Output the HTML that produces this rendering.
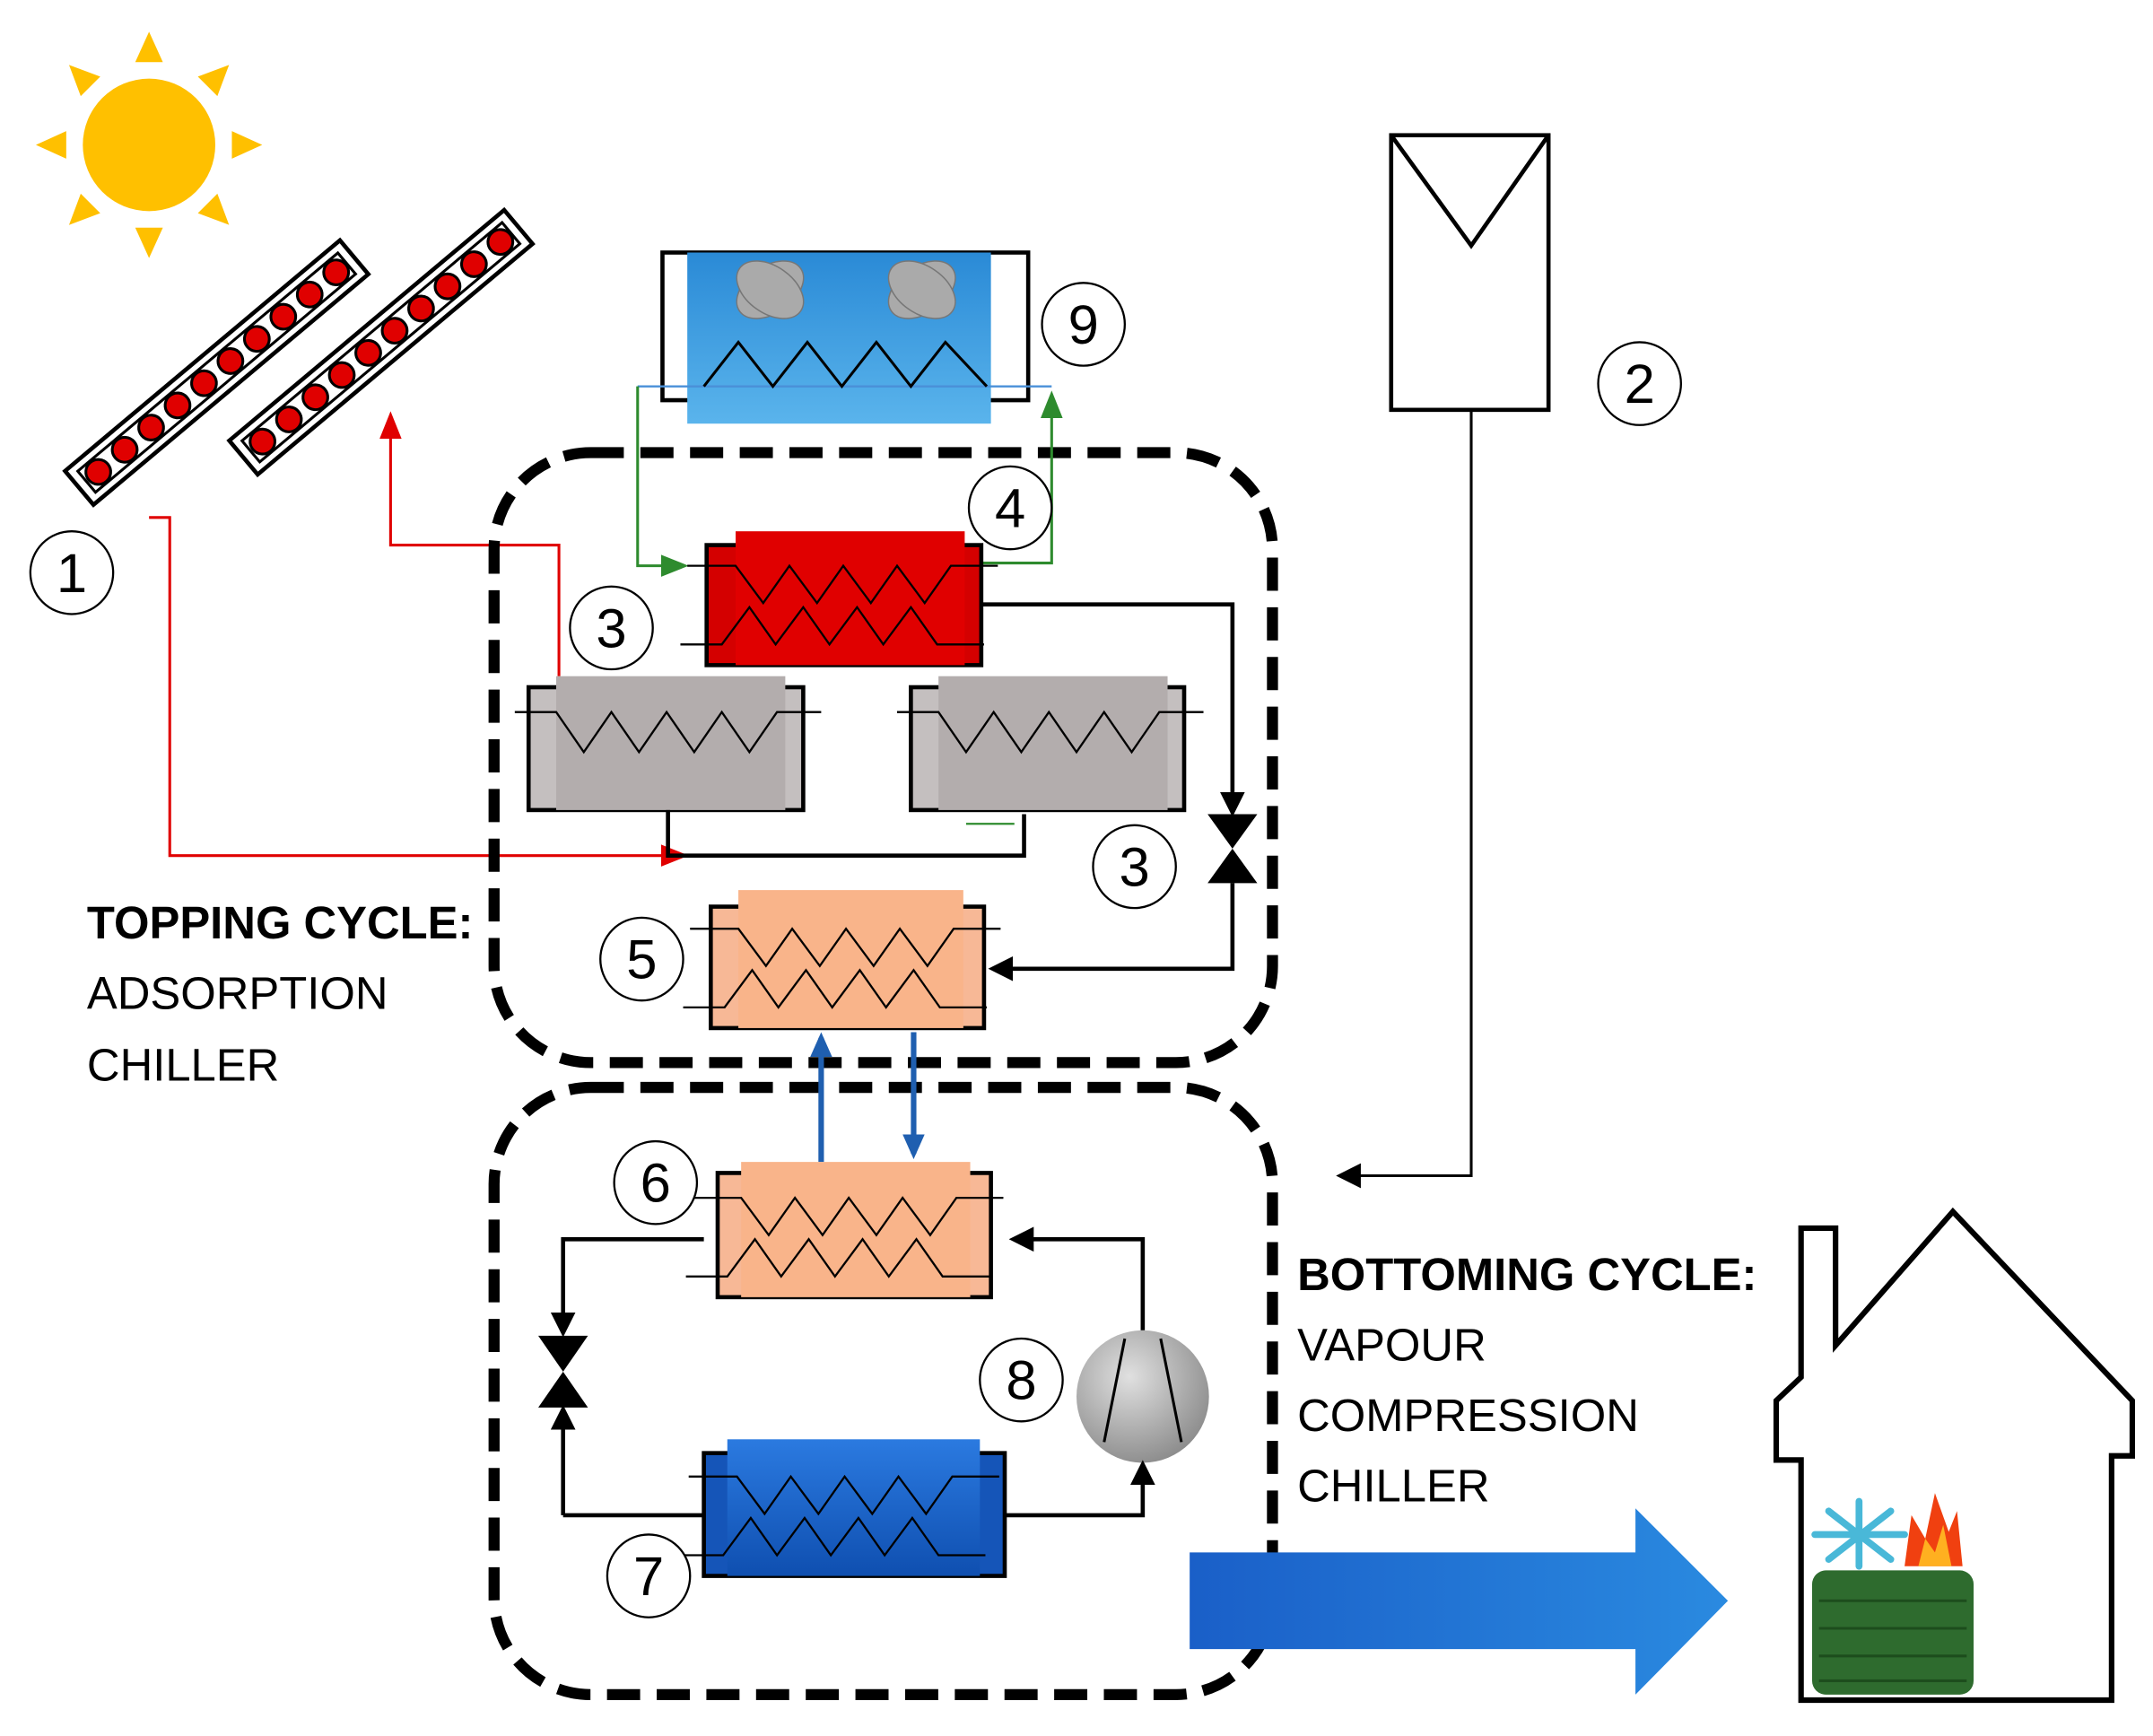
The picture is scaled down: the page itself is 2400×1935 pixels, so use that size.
<!DOCTYPE html>
<html><head><meta charset="utf-8"><style>
html,body{margin:0;padding:0;background:#fff;}
svg{display:block;}
text{font-family:"Liberation Sans",sans-serif;}
</style></head><body>
<svg width="2400" height="1935" viewBox="0 0 1560 1258" preserveAspectRatio="none" xmlns="http://www.w3.org/2000/svg">
<defs>
<marker id="akb" markerWidth="18" markerHeight="18" refX="14" refY="9" orient="auto" markerUnits="userSpaceOnUse"><path d="M0,0 L18,9 L0,18 z" fill="#000"/></marker>
<marker id="ar" markerWidth="20" markerHeight="20" refX="16" refY="10" orient="auto" markerUnits="userSpaceOnUse"><path d="M0,2 L20,10 L0,18 z" fill="#e00000"/></marker>
<marker id="ag" markerWidth="20" markerHeight="20" refX="16" refY="10" orient="auto" markerUnits="userSpaceOnUse"><path d="M0,2 L20,10 L0,18 z" fill="#2e8b2e"/></marker>
<marker id="ab" markerWidth="18" markerHeight="18" refX="14" refY="9" orient="auto" markerUnits="userSpaceOnUse"><path d="M0,1 L18,9 L0,17 z" fill="#1f5fb0"/></marker>
<linearGradient id="tw" x1="0" y1="0" x2="0" y2="1"><stop offset="0" stop-color="#2a8ad6"/><stop offset="1" stop-color="#5ab4ec"/></linearGradient>
<linearGradient id="bl" x1="0" y1="0" x2="0" y2="1"><stop offset="0" stop-color="#2b7ae0"/><stop offset="1" stop-color="#0f4fb0"/></linearGradient>
<radialGradient id="cp" cx="0.4" cy="0.35" r="0.7"><stop offset="0" stop-color="#e0e0e0"/><stop offset="1" stop-color="#8a8a8a"/></radialGradient>
<linearGradient id="ba" x1="0" y1="0" x2="1" y2="0"><stop offset="0" stop-color="#1a5fc8"/><stop offset="1" stop-color="#2a8ae0"/></linearGradient>
<g id="zz2" fill="none" stroke="#000" stroke-width="1.5">
<polyline points="-35,25 0,25 20,52 39,25 59,52 78,25 98,52 117,25 137,52 156,25 190,25"/>
<polyline points="-40,82 -10,82 10,55 29,82 49,55 68,82 88,55 107,82 127,55 146,82 180,82"/>
</g>
<g id="zz1" fill="none" stroke="#000" stroke-width="1.5">
<polyline points="-30,26 0,26 20,55 40,26 60,55 80,26 100,55 120,26 140,55 160,26 192,26"/>
</g>
</defs>

<!-- Sun -->
<g fill="#FFC000">
<circle cx="108" cy="105" r="48"/>
<g transform="translate(108,105)">
<polygon points="-10,-60 10,-60 0,-82"/><polygon points="-10,60 10,60 0,82"/><polygon points="60,-10 60,10 82,0"/><polygon points="-60,-10 -60,10 -82,0"/>
<g transform="rotate(45)"><polygon points="-10,-60 10,-60 0,-82"/><polygon points="-10,60 10,60 0,82"/><polygon points="60,-10 60,10 82,0"/><polygon points="-60,-10 -60,10 -82,0"/></g>
</g></g>

<!-- Collectors -->
<g transform="translate(157,270) rotate(-40)">
<rect x="-130" y="-16" width="260" height="32" fill="#fff" stroke="#000" stroke-width="3"/>
<rect x="-123" y="-10" width="246" height="20" fill="none" stroke="#000" stroke-width="2"/>
<g fill="#e00000" stroke="#000" stroke-width="2">
<circle cx="-112" cy="0" r="9"/><circle cx="-87" cy="0" r="9"/><circle cx="-62" cy="0" r="9"/><circle cx="-37" cy="0" r="9"/><circle cx="-12" cy="0" r="9"/><circle cx="13" cy="0" r="9"/><circle cx="38" cy="0" r="9"/><circle cx="63" cy="0" r="9"/><circle cx="88" cy="0" r="9"/><circle cx="113" cy="0" r="9"/></g></g>
<g transform="translate(276,248) rotate(-40)">
<rect x="-130" y="-16" width="260" height="32" fill="#fff" stroke="#000" stroke-width="3"/>
<rect x="-123" y="-10" width="246" height="20" fill="none" stroke="#000" stroke-width="2"/>
<g fill="#e00000" stroke="#000" stroke-width="2">
<circle cx="-112" cy="0" r="9"/><circle cx="-87" cy="0" r="9"/><circle cx="-62" cy="0" r="9"/><circle cx="-37" cy="0" r="9"/><circle cx="-12" cy="0" r="9"/><circle cx="13" cy="0" r="9"/><circle cx="38" cy="0" r="9"/><circle cx="63" cy="0" r="9"/><circle cx="88" cy="0" r="9"/><circle cx="113" cy="0" r="9"/></g></g>

<!-- Box 2 -->
<rect x="1008" y="98" width="114" height="199" fill="#fff" stroke="#000" stroke-width="3"/>
<polyline points="1008,98 1066,178 1122,98" fill="none" stroke="#000" stroke-width="3"/>
<polyline points="1066,297 1066,852 972,852" fill="none" stroke="#000" stroke-width="2" marker-end="url(#akb)"/>

<!-- Red solar loop -->
<polyline points="108,375 123,375 123,620 495,620" fill="none" stroke="#e00000" stroke-width="2" marker-end="url(#ar)"/>
<polyline points="405,490 405,395 283,395 283,302" fill="none" stroke="#e00000" stroke-width="2" marker-end="url(#ar)"/>

<!-- Dashed boxes -->
<rect x="358" y="328" width="564" height="442" rx="70" fill="none" stroke="#000" stroke-width="8" stroke-dasharray="24,12"/>
<rect x="358" y="788" width="564" height="440" rx="70" fill="none" stroke="#000" stroke-width="8" stroke-dasharray="24,12"/>

<!-- Cooling tower 9 -->
<rect x="480" y="183" width="265" height="107" fill="#fff" stroke="#000" stroke-width="3"/>
<rect x="498" y="183" width="220" height="124" fill="url(#tw)"/>
<line x1="462" y1="280" x2="762" y2="280" stroke="#4a90d8" stroke-width="1.5"/>
<g fill="#aaa" stroke="#777" stroke-width="1">
<ellipse cx="558" cy="210" rx="27" ry="17" transform="rotate(-35 558 210)"/><ellipse cx="558" cy="210" rx="27" ry="17" transform="rotate(35 558 210)"/>
<ellipse cx="668" cy="210" rx="27" ry="17" transform="rotate(-35 668 210)"/><ellipse cx="668" cy="210" rx="27" ry="17" transform="rotate(35 668 210)"/>
</g>
<polyline points="510,280 535,248 560,280 585,248 610,280 635,248 660,280 685,248 715,280" fill="none" stroke="#000" stroke-width="2"/>
<!-- Green loop -->
<polyline points="462,280 462,410 495,410" fill="none" stroke="#2e8b2e" stroke-width="2" marker-end="url(#ag)"/>
<polyline points="712,408 762,408 762,287" fill="none" stroke="#2e8b2e" stroke-width="2" marker-end="url(#ag)"/>

<!-- Red HX 4 -->
<rect x="512" y="395" width="199" height="87" fill="#d40000" stroke="#000" stroke-width="3"/>
<rect x="533" y="385" width="166" height="97" fill="#e00000"/>
<use href="#zz2" transform="translate(533,385)"/>

<!-- Grey adsorbers -->
<rect x="383" y="498" width="199" height="89" fill="#c4bfbf" stroke="#000" stroke-width="3"/>
<rect x="403" y="490" width="166" height="97" fill="#b3adad"/>
<use href="#zz1" transform="translate(403,490)"/>
<rect x="660" y="498" width="198" height="89" fill="#c4bfbf" stroke="#000" stroke-width="3"/>
<rect x="680" y="490" width="166" height="97" fill="#b3adad"/>
<use href="#zz1" transform="translate(680,490)"/>
<polyline points="484,587 484,620 742,620 742,590" fill="none" stroke="#000" stroke-width="3"/>
<line x1="700" y1="597" x2="735" y2="597" stroke="#2e8b2e" stroke-width="1.5"/>

<!-- Black loop top -->
<polyline points="712,438 893,438 893,588" fill="none" stroke="#000" stroke-width="3" marker-end="url(#akb)"/>
<polygon points="875,590 911,590 875,640 911,640" fill="#000"/>
<polyline points="893,640 893,702 720,702" fill="none" stroke="#000" stroke-width="3" marker-end="url(#akb)"/>

<!-- Orange 5 -->
<rect x="515" y="657" width="198" height="88" fill="#f7b896" stroke="#000" stroke-width="3"/>
<rect x="535" y="645" width="163" height="100" fill="#f9b48a"/>
<use href="#zz2" transform="translate(535,648)"/>

<!-- Blue arrows 5-6 -->
<line x1="595" y1="842" x2="595" y2="752" stroke="#1f5fb0" stroke-width="4" marker-end="url(#ab)"/>
<line x1="662" y1="748" x2="662" y2="836" stroke="#1f5fb0" stroke-width="4" marker-end="url(#ab)"/>

<!-- Orange 6 -->
<rect x="520" y="850" width="198" height="90" fill="#f7b896" stroke="#000" stroke-width="3"/>
<rect x="537" y="842" width="166" height="98" fill="#f9b48a"/>
<use href="#zz2" transform="translate(537,843)"/>

<!-- Blue 7 -->
<rect x="510" y="1053" width="218" height="89" fill="#1555b8" stroke="#000" stroke-width="3"/>
<rect x="527" y="1043" width="183" height="99" fill="url(#bl)"/>
<use href="#zz2" transform="translate(534,1045)"/>

<!-- Compressor 8 -->
<circle cx="828" cy="1012" r="48" fill="url(#cp)"/>
<line x1="800" y1="1045" x2="815" y2="970" stroke="#000" stroke-width="2"/>
<line x1="856" y1="1045" x2="841" y2="970" stroke="#000" stroke-width="2"/>

<!-- Bottom loop -->
<polyline points="510,898 408,898 408,965" fill="none" stroke="#000" stroke-width="3" marker-end="url(#akb)"/>
<polygon points="390,968 426,968 390,1020 426,1020" fill="#000"/>
<polyline points="408,1098 408,1022" fill="none" stroke="#000" stroke-width="3" marker-end="url(#akb)"/>
<line x1="408" y1="1098" x2="510" y2="1098" stroke="#000" stroke-width="3"/>
<polyline points="728,1098 828,1098 828,1062" fill="none" stroke="#000" stroke-width="3" marker-end="url(#akb)"/>
<polyline points="828,964 828,898 735,898" fill="none" stroke="#000" stroke-width="3" marker-end="url(#akb)"/>

<!-- Big arrow -->
<polygon points="862,1125 1185,1125 1185,1093 1252,1160 1185,1228 1185,1195 862,1195" fill="url(#ba)"/>

<!-- House -->
<path d="M1305,1232 L1305,1058 L1287,1058 L1287,1015 L1305,998 L1305,890 L1330,890 L1330,975 L1415,878 L1545,1015 L1545,1055 L1530,1055 L1530,1232 Z" fill="#fff" stroke="#000" stroke-width="4"/>
<rect x="1313" y="1138" width="117" height="90" rx="10" fill="#2e6b2e"/>
<g stroke="#1d4d1d" stroke-width="2"><line x1="1318" y1="1160" x2="1425" y2="1160"/><line x1="1318" y1="1180" x2="1425" y2="1180"/><line x1="1318" y1="1200" x2="1425" y2="1200"/><line x1="1318" y1="1218" x2="1425" y2="1218"/></g>
<g stroke="#49b8d8" stroke-width="5" stroke-linecap="round"><line x1="1315" y1="1112" x2="1380" y2="1112"/><line x1="1347" y1="1088" x2="1347" y2="1135"/><line x1="1325" y1="1095" x2="1370" y2="1130"/><line x1="1325" y1="1130" x2="1370" y2="1095"/></g>
<path d="M1380,1135 L1385,1098 L1395,1115 L1402,1082 L1412,1110 L1418,1095 L1422,1135 Z" fill="#f04010"/>
<path d="M1390,1135 L1395,1115 L1402,1125 L1408,1105 L1414,1135 Z" fill="#ffb020"/>

<!-- Numbered circles -->
<g fill="#fff" stroke="#000" stroke-width="1.5">
<circle cx="52" cy="415" r="30"/><circle cx="1188" cy="278" r="30"/><circle cx="785" cy="235" r="30"/><circle cx="732" cy="368" r="30"/>
<circle cx="443" cy="455" r="30"/><circle cx="822" cy="628" r="30"/><circle cx="465" cy="695" r="30"/><circle cx="475" cy="857" r="30"/>
<circle cx="740" cy="1000" r="30"/><circle cx="470" cy="1142" r="30"/>
</g>
<g font-size="40" text-anchor="middle" fill="#000">
<text x="52" y="429">1</text><text x="1188" y="292">2</text><text x="785" y="249">9</text><text x="732" y="382">4</text>
<text x="443" y="469">3</text><text x="822" y="642">3</text><text x="465" y="709">5</text><text x="475" y="871">6</text>
<text x="740" y="1014">8</text><text x="470" y="1156">7</text>
</g>

<!-- Labels -->
<g font-size="33" fill="#000">
<text x="63" y="680" font-weight="bold">TOPPING CYCLE:</text>
<text x="63" y="731">ADSORPTION</text>
<text x="63" y="783">CHILLER</text>
<text x="940" y="935" font-weight="bold">BOTTOMING CYCLE:</text>
<text x="940" y="986">VAPOUR</text>
<text x="940" y="1037">COMPRESSION</text>
<text x="940" y="1088">CHILLER</text>
</g>
</svg>
</body></html>
